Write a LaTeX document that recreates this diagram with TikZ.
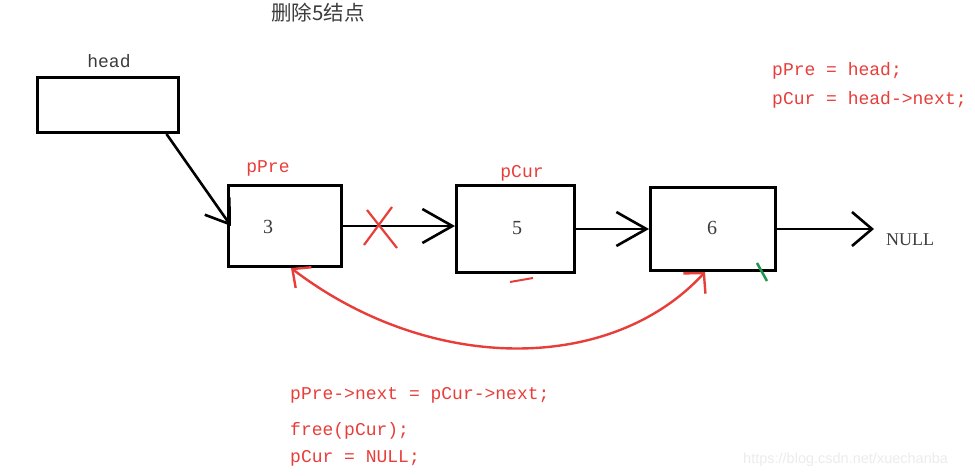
\documentclass[tikz,border=0pt]{standalone}
\usepackage{fontspec}
\setmainfont{Liberation Serif}
\setmonofont{Liberation Mono}
\setsansfont{Liberation Sans}
\newfontfamily\cjkfont{Noto Sans CJK SC}
\usetikzlibrary{arrows.meta}
\definecolor{codered}{RGB}{232,62,58}
\definecolor{txtgray}{RGB}{60,60,60}
\definecolor{tickgreen}{RGB}{30,150,80}
\definecolor{wmgray}{RGB}{236,236,236}
\begin{document}
\begin{tikzpicture}[x=1pt,y=-1pt,
  box/.style={draw=black, line width=3pt, inner sep=0pt},
  num/.style={inner sep=0pt, text=txtgray, font=\fontsize{20}{22}\selectfont},
  code/.style={inner sep=0pt, anchor=base west, text=codered, font=\ttfamily\fontsize{18}{22}\selectfont},
  lbl/.style={inner sep=0pt, anchor=base, font=\ttfamily\fontsize{18}{22}\selectfont},
  link/.style={draw=black, line width=2.6pt, -{Straight Barb[length=30pt,width=34pt,line width=2.6pt]}},
  redlink/.style={draw=codered, line width=2.4pt,
     {Straight Barb[length=14pt,width=26pt,line width=2.4pt]}-{Straight Barb[length=14pt,width=30pt,line width=2.4pt]}}
]
\useasboundingbox (0,0) rectangle (975,476);
\fill[white] (0,0) rectangle (975,476);

% title
\node[inner sep=0pt, text=txtgray, font=\cjkfont\fontsize{20.5}{22}\selectfont] (title) at (318,13) {删除5结点};

% boxes
\node[box, minimum width=141pt, minimum height=55pt] (head) at (108,105) {};
\node[box, minimum width=113pt, minimum height=81pt] (n3) at (285,226) {};
\node[box, minimum width=118pt, minimum height=87pt] (n5) at (515.5,229) {};
\node[box, minimum width=125pt, minimum height=83pt] (n6) at (713,229) {};

% values
\node[num] (v3) at (268,227) {3};
\node[num] (v5) at (517,228) {5};
\node[num] (v6) at (712,228) {6};

% labels
\node[lbl, text=txtgray] (lhead) at (109,68) {head};
\node[lbl, text=codered] (lpre) at (268,172) {pPre};
\node[lbl, text=codered] (lcur) at (522,178) {pCur};
\node[inner sep=0pt, anchor=base, text=txtgray, font=\fontsize{18}{22}\selectfont] (nul) at (910,245) {NULL};
\coordinate (nullend) at (874,229);

% connectors
\draw[link, -{Straight Barb[length=22pt,width=30pt,line width=2.6pt]}] ([xshift=-13.5pt]head.south east) -- ([xshift=4pt]n3.west);
\draw[link] (n3.east) -- (n5.west |- n3.east);
\draw[link] (n5.east) -- (n6.west);
\draw[link, -{Straight Barb[length=20pt,width=34pt,line width=2.6pt]}] (n6.east) -- (nullend);

% red cross
\draw[codered, line width=2.2pt] (367,210) -- (397,248);
\draw[codered, line width=2.2pt] (392,207) -- (364,245);

% red curve
\draw[redlink] ([xshift=6pt]n3.south) .. controls (430,374) and (611,374) .. ([xshift=-8pt]n6.south);

% small marks
\draw[codered, line width=2pt] (510,282) -- (533,278);
\draw[tickgreen, line width=2.5pt] (757,263) -- (767,281);

% code text
\node[code] (c1) at (772,76) {pPre = head;};
\node[code] (c2) at (772,105) {pCur = head->next;};
\node[code] (c3) at (290,399) {pPre->next = pCur->next;};
\node[code] (c4) at (290,435) {free(pCur);};
\node[code] (c5) at (290,462) {pCur = NULL;};

% watermark
\node[inner sep=0pt, anchor=base west, text=wmgray, font=\sffamily\fontsize{14.5}{17}\selectfont] (wm) at (743,463) {https://blog.csdn.net/xuechanba};
\end{tikzpicture}
\end{document}
